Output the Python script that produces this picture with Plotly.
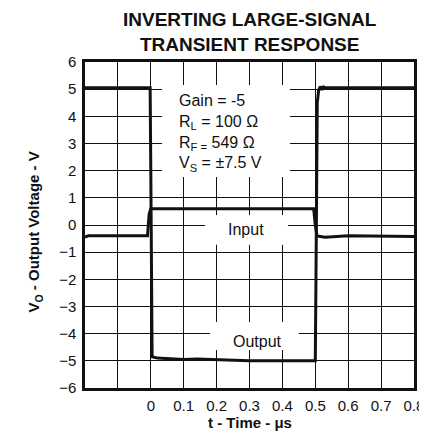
import plotly.graph_objects as go

# output voltage trace (V) vs time (us)
out_t = [-0.2, -0.1, -0.002, 0.0, 0.004, 0.02, 0.06, 0.1, 0.14, 0.18, 0.22, 0.3, 0.4, 0.5,
         0.502, 0.506, 0.51, 0.515, 0.52, 0.525, 0.53, 0.54, 0.6, 0.7, 0.8]
out_v = [5.05, 5.05, 5.05, 2.0, -4.85, -4.9, -4.92, -4.95, -4.93, -4.95, -4.98, -5.0, -5.0, -5.0,
         -2.0, 4.5, 4.95, 5.1, 4.98, 5.08, 5.05, 5.05, 5.05, 5.05, 5.05]

# input voltage trace
in_t = [-0.2, -0.19, -0.1, -0.01, -0.005, 0.0, 0.1, 0.3, 0.495, 0.5, 0.505, 0.53, 0.6, 0.8]
in_v = [-0.45, -0.4, -0.4, -0.4, 0.4, 0.6, 0.6, 0.6, 0.6, 0.0, -0.4, -0.45, -0.4, -0.42]

x_ticks = [-0.2, -0.1, 0, 0.1, 0.2, 0.3, 0.4, 0.5, 0.6, 0.7, 0.8]
x_labels = ["", "", "0", "0.1", "0.2", "0.3", "0.4", "0.5", "0.6", "0.7", "0.8"]
y_ticks = list(range(-6, 7))

params_text = ("Gain = -5<br>R<sub>L</sub> = 100 Ω<br>R<sub>F =</sub> 549 Ω"
               "<br>V<sub>S</sub> = ±7.5 V")

# white blanking boxes behind the labels (x0, x1, y0, y1), they break the grid
label_boxes = [(0.034, 0.423, 1.77, 5.15), (0.165, 0.417, -0.73, 0.37), (0.18, 0.45, -4.6, -3.57)]

ink = "#111111"
font = dict(family="Liberation Sans, Arial, sans-serif", color=ink)

fig = go.Figure()
fig.add_trace(go.Scatter(x=in_t, y=in_v, mode="lines",
                         line=dict(color=ink, width=3), showlegend=False))
fig.add_trace(go.Scatter(x=out_t, y=out_v, mode="lines",
                         line=dict(color=ink, width=3), showlegend=False))

for x0, x1, y0, y1 in label_boxes:
    fig.add_shape(type="rect", x0=x0, x1=x1, y0=y0, y1=y1, xref="x", yref="y",
                  fillcolor="white", line=dict(width=0), layer="between")

fig.add_annotation(x=0.08, y=3.37, xref="x", yref="y", text=params_text, showarrow=False,
                   align="left", xanchor="left", yanchor="middle",
                   font=dict(size=16, **font))
fig.add_annotation(x=0.29, y=-0.18, xref="x", yref="y", text="Input", showarrow=False,
                   font=dict(size=16, **font))
fig.add_annotation(x=0.323, y=-4.27, xref="x", yref="y", text="Output", showarrow=False,
                   font=dict(size=16, **font))

# title and axis titles
fig.add_annotation(x=0.5, y=1.17, xref="paper", yref="paper", xanchor="center", yanchor="top",
                   text="<b>INVERTING LARGE-SIGNAL<br>TRANSIENT RESPONSE</b>", showarrow=False,
                   font=dict(size=19, **font))
fig.add_annotation(x=0.5, y=-0.105, xref="paper", yref="paper", xanchor="center",
                   yanchor="middle", text="<b>t - Time - μs</b>", showarrow=False,
                   font=dict(size=15, **font))
fig.add_annotation(x=-0.152, y=0.48, xref="paper", yref="paper", xanchor="center",
                   yanchor="middle", textangle=-90,
                   text="<b>V<sub>O</sub> - Output Voltage - V</b>", showarrow=False,
                   font=dict(size=15, **font))

# page body keeps an 8px margin, so the figure is smaller than the window
fig.update_layout(
    width=419, height=423,
    margin=dict(l=77, r=13, t=54, b=43),
    paper_bgcolor="white", plot_bgcolor="white",
    font=font,
)
fig.update_xaxes(range=[-0.2, 0.8], tickvals=x_ticks, ticktext=x_labels,
                 showgrid=True, gridcolor=ink, gridwidth=1,
                 showline=True, linecolor=ink, linewidth=2.5, mirror=True,
                 zeroline=False, ticks="", ticklabelstandoff=2, automargin=False,
                 ticklabeloverflow="allow", tickfont=dict(size=15, **font))
fig.update_yaxes(range=[-6, 6], tickvals=y_ticks,
                 showgrid=True, gridcolor=ink, gridwidth=1,
                 showline=True, linecolor=ink, linewidth=2.5, mirror=True,
                 zeroline=False, ticks="", ticklabelstandoff=3, automargin=False,
                 tickfont=dict(size=15, **font))

fig.write_html("out.html")
